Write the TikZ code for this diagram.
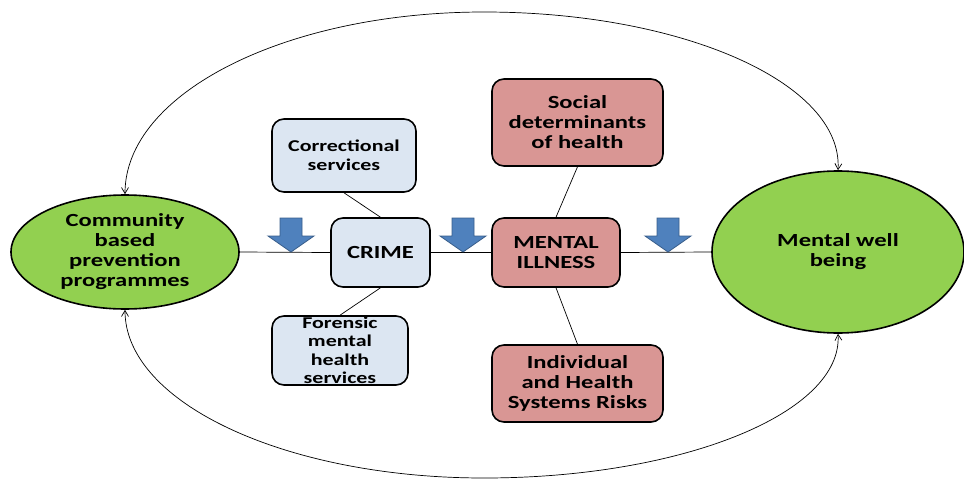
\documentclass[tikz,border=0pt]{standalone}
\usepackage{fontspec}
\setmainfont{Carlito}[FakeStretch=1.33]
\usetikzlibrary{arrows.meta,shapes.geometric}

\definecolor{wellgreen}{HTML}{92D050}
\definecolor{crimeblue}{HTML}{DCE6F2}
\definecolor{illpink}{HTML}{D99694}
\definecolor{arrowblue}{HTML}{4F81BD}
\definecolor{arrowedge}{HTML}{385D8A}

\tikzset{
	box/.style={draw=black, line width=1.6pt, rounded corners=12pt, align=center,
		inner sep=0pt, font=\fontsize{18.5}{20}\selectfont\bfseries},
	bluebox/.style={box, fill=crimeblue, font=\fontsize{16.5}{18.5}\selectfont\bfseries},
	pinkbox/.style={box, fill=illpink},
	blob/.style={draw=black, line width=1.6pt, ellipse, fill=wellgreen, align=center,
		inner sep=0pt, font=\fontsize{18.5}{20}\selectfont\bfseries},
	link/.style={line width=0.7pt},
	loop/.style={line width=0.7pt, {Straight Barb[length=6pt,width=7pt]}-{Straight Barb[length=6pt,width=7pt]}},
	pics/downarrow/.style={code={
		\draw[fill=arrowblue, draw=arrowedge, line width=0.8pt]
			(-11,-34)--(11,-34)--(11,-16)--(23,-16)--(0,0)--(-23,-16)--(-11,-16)--cycle;
	}}
}

\begin{document}
\begin{tikzpicture}[x=1pt,y=-1pt]
	\useasboundingbox (0,0) rectangle (964,479);

	% ellipses
	\node[blob, minimum width=228pt, minimum height=114pt] (comm) at (125,252) {Community\\based\\prevention\\programmes};
	\node[blob, minimum width=252pt, minimum height=162pt] (well) at (838,252) {Mental well\\being};

	% crime side
	\node[bluebox, minimum width=144pt, minimum height=73pt] (corr) at (344,155.5) {Correctional\\services};
	\node[bluebox, minimum width=99pt, minimum height=69pt, font=\fontsize{18.5}{20}\selectfont\bfseries] (crime) at (380.5,252.5) {CRIME};
	\node[bluebox, minimum width=136pt, minimum height=69pt] (foren) at (340,350.5) {Forensic\\mental\\health\\services};

	% mental illness side
	\node[pinkbox, minimum width=171pt, minimum height=87pt] (social) at (577.5,122.5) {Social\\determinants\\of health};
	\node[pinkbox, minimum width=128pt, minimum height=69pt] (ill) at (556,252.5) {MENTAL\\ILLNESS};
	\node[pinkbox, minimum width=171pt, minimum height=77pt] (indiv) at (577.5,383.5) {Individual\\and Health\\Systems Risks};

	% links
	\draw[link] (comm.east) -- (crime.west);
	\draw[link] (crime.east) -- (ill.west);
	\draw[link] (ill.east) -- (well.west);
	\draw[link] (corr.south) -- (crime.north);
	\draw[link] (crime.south) -- (foren.north);
	\draw[link] (social.south) -- (ill.north);
	\draw[link] (ill.south) -- (indiv.north);

	% big loops
	\coordinate (top) at (484,12);
	\coordinate (bottom) at (484,478);
	\draw[loop] (comm.north) .. controls (125,93) and (286,12) .. (top)
		.. controls (682,12) and (843,83) .. (well.north);
	\draw[loop] (comm.south) .. controls (125,403) and (286,478) .. (bottom)
		.. controls (682,478) and (843,413) .. (well.south);

	% arrows
	\pic at (291,252) {downarrow};
	\pic at (463,252) {downarrow};
	\pic at (668,252) {downarrow};

\end{tikzpicture}
\end{document}
